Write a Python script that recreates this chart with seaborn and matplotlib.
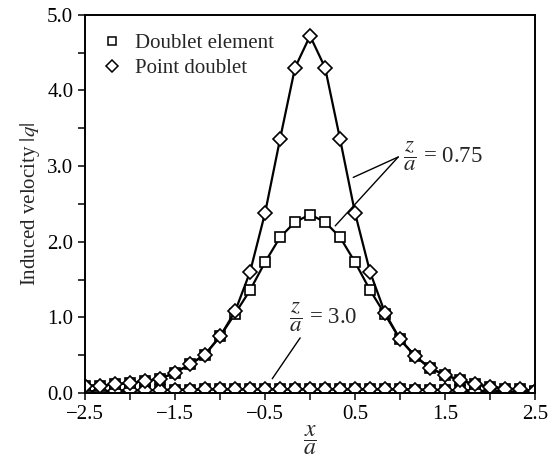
import matplotlib
matplotlib.use("Agg")
import matplotlib.pyplot as plt
import numpy as np
import pandas as pd
import seaborn as sns
from matplotlib.lines import Line2D

# x/a stations (31 points, step 1/6)
x_a = [-2.5, -2.333, -2.167, -2.0, -1.833, -1.667, -1.5, -1.333, -1.167, -1.0,
       -0.833, -0.667, -0.5, -0.333, -0.167, 0.0, 0.167, 0.333, 0.5, 0.667,
       0.833, 1.0, 1.167, 1.333, 1.5, 1.667, 1.833, 2.0, 2.167, 2.333, 2.5]

# z/a = 0.75
point_075 = [0.10, 0.10, 0.115, 0.135, 0.16, 0.19, 0.27, 0.38, 0.51, 0.75,
             1.08, 1.60, 2.38, 3.36, 4.30, 4.72, 4.30, 3.36, 2.38, 1.60,
             1.06, 0.71, 0.49, 0.33, 0.24, 0.17, 0.115, 0.085, 0.06, 0.05, 0.03]
element_075 = [0.10, 0.10, 0.115, 0.135, 0.16, 0.19, 0.27, 0.38, 0.51, 0.75,
               1.05, 1.36, 1.73, 2.06, 2.26, 2.36, 2.26, 2.06, 1.73, 1.36,
               1.04, 0.71, 0.49, 0.33, 0.24, 0.17, 0.115, 0.085, 0.06, 0.05, 0.03]

# z/a = 3.0
point_30 = [0.02, 0.025, 0.03, 0.035, 0.04, 0.04, 0.045, 0.045, 0.05, 0.05,
            0.05, 0.05, 0.05, 0.05, 0.05, 0.05, 0.05, 0.05, 0.05, 0.05,
            0.05, 0.05, 0.045, 0.045, 0.04, 0.035, 0.03, 0.025, 0.02, 0.015, 0.01]
element_30 = [0.02, 0.025, 0.03, 0.035, 0.04, 0.04, 0.045, 0.045, 0.05, 0.05,
              0.05, 0.05, 0.05, 0.05, 0.05, 0.05, 0.05, 0.05, 0.05, 0.05,
              0.05, 0.05, 0.045, 0.045, 0.04, 0.035, 0.03, 0.025, 0.02, 0.015, 0.01]

x_ticks = [-2.5, -2.0, -1.5, -1.0, -0.5, 0.0, 0.5, 1.0, 1.5, 2.0, 2.5]
x_labels = ["\u22122.5", "", "\u22121.5", "", "\u22120.5", "", "0.5", "", "1.5", "", "2.5"]
y_ticks = [0.0, 0.5, 1.0, 1.5, 2.0, 2.5, 3.0, 3.5, 4.0, 4.5, 5.0]
y_labels = ["0.0", "", "1.0", "", "2.0", "", "3.0", "", "4.0", "", "5.0"]

sns.set_style("ticks")
plt.rcParams["font.family"] = ["Liberation Serif", "DejaVu Serif"]
plt.rcParams["mathtext.fontset"] = "stix"

fig = plt.figure(figsize=(5.49, 4.68), dpi=100)
ax = fig.add_axes([0.155, 0.160, 0.8195, 0.8086])

sq = dict(marker="s", markersize=6.8, markerfacecolor="white", markeredgecolor="black",
          markeredgewidth=1.2, color="black", linewidth=1.6)
di = dict(marker="D", markersize=7.2, markerfacecolor="white", markeredgecolor="black",
          markeredgewidth=1.2, color="black", linewidth=1.6)

# squares first, diamonds on top so overlapping points read as octagons
for y_el, y_pt in [(element_30, point_30), (element_075, point_075)]:
    df_el = pd.DataFrame({"x": x_a, "q": y_el})
    df_pt = pd.DataFrame({"x": x_a, "q": y_pt})
    sns.lineplot(data=df_el, x="x", y="q", ax=ax, **sq)
    sns.lineplot(data=df_pt, x="x", y="q", ax=ax, **di)

ax.set_xlim(-2.5, 2.5)
ax.set_ylim(0, 5.0)
ax.set_xticks(x_ticks)
ax.set_xticklabels(x_labels)
ax.set_yticks(y_ticks)
ax.set_yticklabels(y_labels)
ax.tick_params(direction="out", length=5, width=1.1, labelsize=15, colors="black")
for s in ax.spines.values():
    s.set_linewidth(1.4)
    s.set_color("black")

ax.set_xlabel(r"$\dfrac{x}{a}$", fontsize=17, labelpad=0)
ax.set_ylabel(r"Induced velocity $|q|$", fontsize=15, labelpad=4)

# annotations
ax.text(1.03, 3.13, r"$\dfrac{z}{a}$ = 0.75", fontsize=16.5, va="center", ha="left")
ax.plot([0.98, 0.48], [3.12, 2.85], color="black", linewidth=1.0)
ax.plot([0.98, 0.28], [3.12, 2.21], color="black", linewidth=1.0)
ax.text(-0.23, 1.0, r"$\dfrac{z}{a}$ = 3.0", fontsize=16.5, va="center", ha="left")
ax.plot([-0.11, -0.42], [0.73, 0.19], color="black", linewidth=1.0)

handles = [
    Line2D([], [], linestyle="none", marker="s", markersize=6, markerfacecolor="white",
           markeredgecolor="black", markeredgewidth=1.1),
    Line2D([], [], linestyle="none", marker="D", markersize=6, markerfacecolor="white",
           markeredgecolor="black", markeredgewidth=1.1),
]
ax.legend(handles, ["Doublet element", "Point doublet"], loc="upper left",
          bbox_to_anchor=(-0.01, 1.005), frameon=False, fontsize=15,
          handlelength=1.0, handletextpad=0.6, labelspacing=0.25, borderaxespad=0.6)

fig.savefig("out.png", dpi=100)
